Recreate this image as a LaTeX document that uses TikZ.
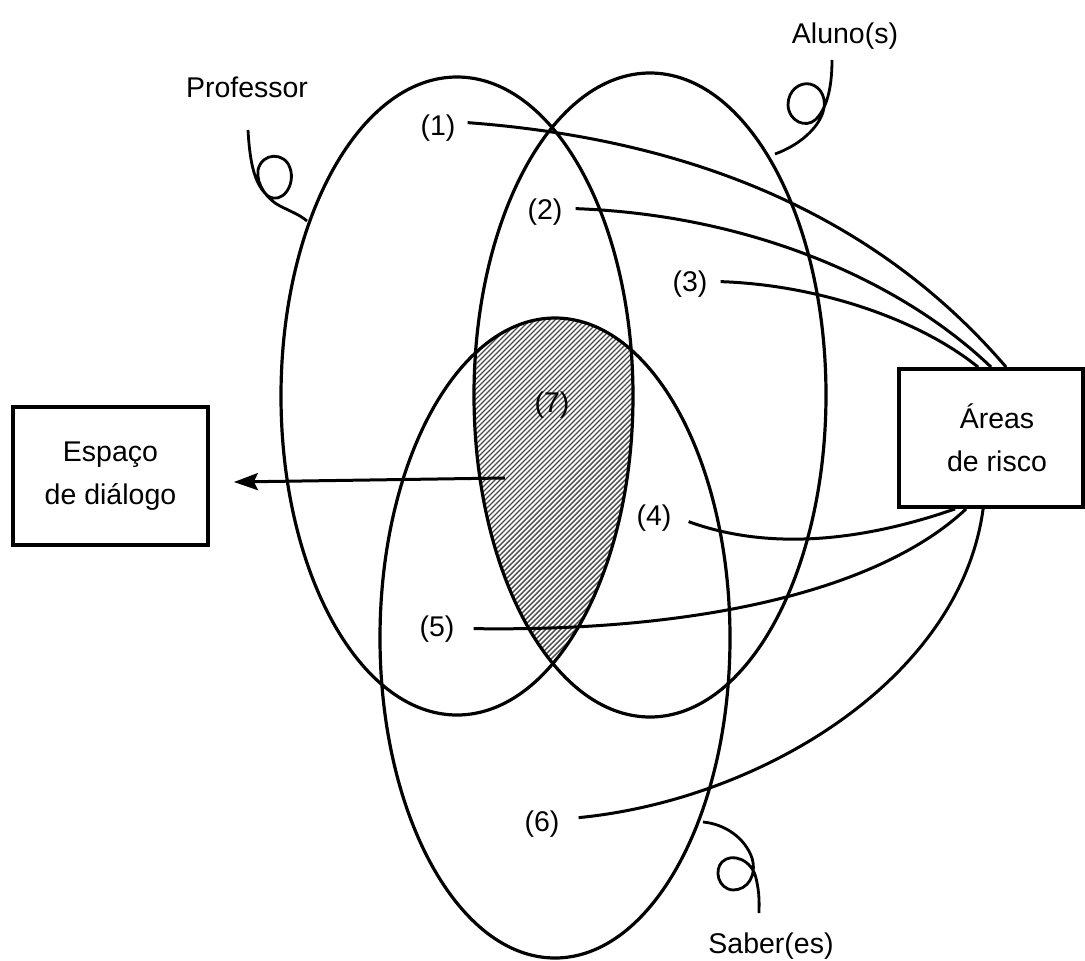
\documentclass[tikz,border=0pt]{standalone}
\usepackage{fontspec}
\setmainfont{Liberation Sans}
\usetikzlibrary{arrows.meta}
\begin{document}
\begin{tikzpicture}[x=1pt,y=-1pt,
  lbl/.style={font=\fontsize{28.5}{43}\selectfont, inner sep=0pt, anchor=base},
  rim/.style={line width=3.2pt},
  link/.style={line width=3pt},
  curl/.style={line width=2.8pt},
  boxed/.style={draw, line width=3.8pt, font=\fontsize{28.5}{43}\selectfont,
                align=center, minimum height=138pt, inner sep=0pt}]
\useasboundingbox (0,0) rectangle (1085,961);

% hatched common part of the three sets
\begin{scope}
  \clip (457,396) ellipse [x radius=176pt, y radius=319pt];
  \clip (650,395) ellipse [x radius=176pt, y radius=322pt];
  \clip (555,638) ellipse [x radius=175pt, y radius=320pt];
  \foreach \s in {110,115,...,640}
    \draw[line width=1.4pt, black!70] (\s,670) -- ++(360,-360);
\end{scope}

% the three sets
\draw[rim] (457,396) ellipse [x radius=176pt, y radius=319pt];
\draw[rim] (650,395) ellipse [x radius=176pt, y radius=322pt];
\draw[rim] (555,638) ellipse [x radius=175pt, y radius=320pt];

% set names with their curly ties
\node[lbl] (prof) at (247,97) {Professor};
\node[lbl] (alun) at (845,43) {Aluno(s)};
\node[lbl] (saber) at (771,953) {Saber(es)};

\draw[curl] (248,130) .. controls (250,165) and (255,185) .. (268,196)
  .. controls (282,205) and (296,185) .. (290,168)
  .. controls (285,152) and (262,152) .. (258,170)
  .. controls (256,185) and (268,200) .. (280,206)
  .. controls (292,212) and (300,215) .. (307,221);
\draw[curl] (832,60) .. controls (832,90) and (826,110) .. (815,120)
  .. controls (806,128) and (789,122) .. (788,105)
  .. controls (788,90) and (800,82) .. (810,84)
  .. controls (822,87) and (827,100) .. (823,112)
  .. controls (818,128) and (800,145) .. (775,154);
\draw[curl] (703,822) .. controls (725,824) and (745,838) .. (752,858)
  .. controls (757,875) and (748,890) .. (733,890)
  .. controls (718,889) and (714,870) .. (722,862)
  .. controls (732,852) and (752,860) .. (756,878)
  .. controls (760,895) and (759,905) .. (759,913);

% region numbers
\node[lbl] (n1) at (438,135) {(1)};
\node[lbl] (n2) at (545,219) {(2)};
\node[lbl] (n3) at (690,291) {(3)};
\node[lbl] (n4) at (654,525) {(4)};
\node[lbl] (n5) at (437,636) {(5)};
\node[lbl] (n6) at (542,831) {(6)};
\node[lbl] (n7) at (552,412) {(7)};

% boxes
\node[boxed, minimum width=195pt] (dialogo) at (110.5,476) {Espaço\\de diálogo};
\node[boxed, minimum width=184pt] (risco) at (991,438) {\hspace*{12pt}Áreas\\\hspace*{12pt}de risco};

% links to the risk box
\draw[link] ([shift={(12,-5)}]n1.east) .. controls (700,140) and (880,220) .. ([xshift=109pt]risco.north west);
\draw[link] ([shift={(13,-3)}]n2.east) .. controls (750,215) and (900,280) .. ([xshift=94pt]risco.north west);
\draw[link] ([shift={(13,-2)}]n3.east) .. controls (820,285) and (920,320) .. ([xshift=81pt]risco.north west);
\draw[link] ([shift={(17,4)}]n4.east) .. controls (780,555) and (880,535) .. ([xshift=58pt]risco.south west);
\draw[link] ([shift={(19,0)}]n5.east) .. controls (700,632) and (880,590) .. ([xshift=69pt]risco.south west);
\draw[link] ([shift={(19,-6)}]n6.east) .. controls (760,800) and (960,680) .. ([xshift=86pt]risco.south west);

% arrow to the dialogue box
\coordinate (a7) at (505,478);
\draw[link, -{Stealth[length=24pt,width=17pt,inset=4pt]}] (a7) -- ([shift={(24,6)}]dialogo.east);
\end{tikzpicture}
\end{document}
